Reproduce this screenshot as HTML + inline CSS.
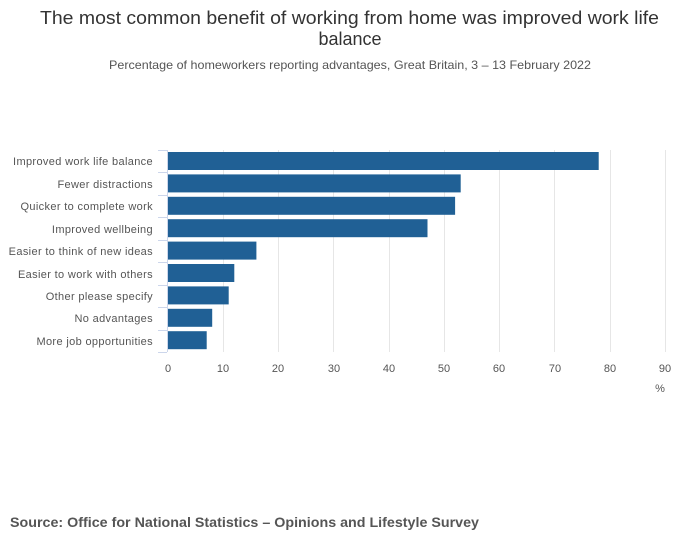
<!DOCTYPE html>
<html><head><style>
body{margin:0;width:700px;height:549px;background:#fff;font-family:"Liberation Sans",sans-serif;position:relative;overflow:hidden}
</style></head><body>
<svg width="700" height="549" xmlns="http://www.w3.org/2000/svg" style="position:absolute;left:0;top:0" font-family="Liberation Sans, sans-serif">
<text x="40" y="24" textLength="619" lengthAdjust="spacingAndGlyphs" font-size="18" fill="#333">The most common benefit of working from home was improved work life</text>
<text x="350" y="45" text-anchor="middle" font-size="18" fill="#333">balance</text>
<text x="109" y="69" textLength="482" lengthAdjust="spacingAndGlyphs" font-size="12" fill="#555">Percentage of homeworkers reporting advantages, Great Britain, 3 – 13 February 2022</text>
<g stroke="#e6e6e6" stroke-width="1">
<line x1="223.5" y1="150" x2="223.5" y2="352"/><line x1="278.5" y1="150" x2="278.5" y2="352"/><line x1="333.5" y1="150" x2="333.5" y2="352"/><line x1="389.5" y1="150" x2="389.5" y2="352"/><line x1="444.5" y1="150" x2="444.5" y2="352"/><line x1="499.5" y1="150" x2="499.5" y2="352"/><line x1="554.5" y1="150" x2="554.5" y2="352"/><line x1="610.5" y1="150" x2="610.5" y2="352"/><line x1="665.5" y1="150" x2="665.5" y2="352"/>
</g>
<g stroke="#ccd6eb" stroke-width="1">
<line x1="167.5" y1="150" x2="167.5" y2="352"/>
<line x1="158" y1="150.5" x2="167" y2="150.5"/><line x1="158" y1="172.5" x2="167" y2="172.5"/><line x1="158" y1="195.5" x2="167" y2="195.5"/><line x1="158" y1="217.5" x2="167" y2="217.5"/><line x1="158" y1="240.5" x2="167" y2="240.5"/><line x1="158" y1="262.5" x2="167" y2="262.5"/><line x1="158" y1="285.5" x2="167" y2="285.5"/><line x1="158" y1="307.5" x2="167" y2="307.5"/><line x1="158" y1="330.5" x2="167" y2="330.5"/><line x1="158" y1="352.5" x2="167" y2="352.5"/>
</g>
<g fill="#206095">
<rect x="168" y="152" width="430.7" height="18"/>
<rect x="168" y="174.4" width="292.7" height="18"/>
<rect x="168" y="196.8" width="287.1" height="18"/>
<rect x="168" y="219.2" width="259.5" height="18"/>
<rect x="168" y="241.6" width="88.4" height="18"/>
<rect x="168" y="264" width="66.3" height="18"/>
<rect x="168" y="286.4" width="60.7" height="18"/>
<rect x="168" y="308.8" width="44.2" height="18"/>
<rect x="168" y="331.2" width="38.7" height="18"/>
</g>
<g font-size="11" fill="#555" text-anchor="end" letter-spacing="0.35">
<text x="153" y="165">Improved work life balance</text>
<text x="153" y="188">Fewer distractions</text>
<text x="153" y="210">Quicker to complete work</text>
<text x="153" y="233">Improved wellbeing</text>
<text x="153" y="255">Easier to think of new ideas</text>
<text x="153" y="278">Easier to work with others</text>
<text x="153" y="300">Other please specify</text>
<text x="153" y="322">No advantages</text>
<text x="153" y="345">More job opportunities</text>
</g>
<g font-size="11" fill="#555" text-anchor="middle">
<text x="168" y="372">0</text><text x="223" y="372">10</text><text x="278" y="372">20</text><text x="334" y="372">30</text><text x="389" y="372">40</text><text x="444" y="372">50</text><text x="499" y="372">60</text><text x="555" y="372">70</text><text x="610" y="372">80</text><text x="665" y="372">90</text>
<text x="660" y="392">%</text>
</g>
<text x="10" y="527" textLength="469" lengthAdjust="spacingAndGlyphs" font-size="14" font-weight="bold" fill="#555">Source: Office for National Statistics – Opinions and Lifestyle Survey</text>
</svg>
</body></html>
